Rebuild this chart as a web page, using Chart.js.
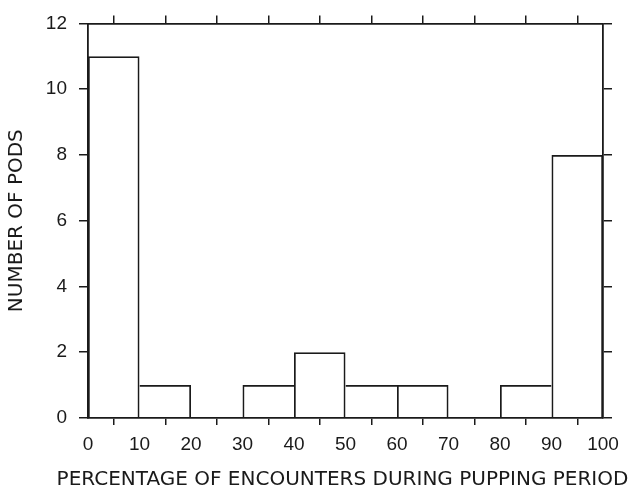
<!DOCTYPE html>
<html>
<head>
<meta charset="utf-8">
<script src="https://cdn.jsdelivr.net/npm/chart.js@4"></script>
<style>
  html, body { margin: 0; padding: 0; background: #fff; }
  #pods { display: block; }
</style>
</head>
<body>
<canvas id="pods" width="635" height="492"></canvas>
<script>
// histogram bins (percent of encounters), one bar per 10% bin
const binCenters = [5, 15, 25, 35, 45, 55, 65, 75, 85, 95];
const podCounts = [11, 1, 0, 1, 2, 1, 1, 0, 1, 8];
const xTickStep = 10;
const yTickStep = 2;
const xTitle = 'PERCENTAGE OF ENCOUNTERS DURING PUPPING PERIOD';
const yTitle = 'NUMBER OF PODS';

const ink = '#1a1a1a';
const lineW = 1.7;
const tickFont = { family: 'Liberation Sans', size: 19 };
const titleFont = { family: 'DejaVu Sans', size: 20 };

// fixed axis sizes so the plot frame lands where it should
function fixWidth(w) { return s => { s.width = w; }; }
function fixHeight(h) { return s => { s.height = h; }; }

// a shared edge between two bins is drawn once, by the taller bar
function barBorder(c) {
    const i = c.dataIndex;
    const v = podCounts[i];
    const prev = i > 0 ? podCounts[i - 1] : 0;
    const next = i < podCounts.length - 1 ? podCounts[i + 1] : 0;
    return {
        top: lineW,
        left: v >= prev ? lineW : 0,
        right: v > next ? lineW : 0,
        bottom: 0
    };
}

// the built-in axis title gets squeezed to the axis width, this one is not
const bottomTitle = {
    id: 'bottomTitle',
    afterDraw(chart) {
        const c = chart.ctx;
        const area = chart.chartArea;
        c.save();
        c.font = titleFont.size + 'px "' + titleFont.family + '"';
        c.fillStyle = ink;
        c.textAlign = 'center';
        c.textBaseline = 'middle';
        c.fillText(xTitle, (area.left + area.right) / 2 - 3, chart.height - 12);
        c.restore();
    }
};

const ctx = document.getElementById('pods').getContext('2d');
const chart = new Chart(ctx, {
    type: 'bar',
    data: {
        datasets: [{
            data: binCenters.map((x, i) => ({ x: x, y: podCounts[i] })),
            backgroundColor: 'rgba(0,0,0,0)',
            borderColor: ink,
            borderWidth: barBorder,
            borderSkipped: false,
            inflateAmount: 0,
            barPercentage: 1,
            categoryPercentage: 1,
            xAxisID: 'x',
            yAxisID: 'y'
        }]
    },
    plugins: [bottomTitle],
    options: {
        responsive: false,
        animation: false,
        devicePixelRatio: 1,
        layout: { padding: 0 },
        plugins: { legend: { display: false }, tooltip: { enabled: false } },
        scales: {
            x: {
                type: 'linear', position: 'bottom', min: 0, max: 100, offset: false,
                afterFit: fixHeight(74),
                ticks: { stepSize: xTickStep, color: ink, font: tickFont, padding: 8, maxRotation: 0 },
                grid: { drawOnChartArea: false, color: ink, tickLength: 7, lineWidth: 1.5 },
                border: { color: ink, width: 1.8 }
            },
            x2: {
                type: 'linear', position: 'top', min: 0, max: 100, offset: false,
                afterFit: fixHeight(21),
                ticks: { stepSize: xTickStep, display: false },
                grid: { drawOnChartArea: false, color: ink, tickLength: 8, lineWidth: 1.5 },
                border: { color: ink, width: 1.8 }
            },
            y: {
                position: 'left', min: 0, max: 12,
                afterFit: fixWidth(88),
                ticks: { stepSize: yTickStep, color: ink, font: tickFont, padding: 12 },
                grid: { drawOnChartArea: false, color: ink, tickLength: 9, lineWidth: 1.5 },
                border: { color: ink, width: 1.8 },
                title: { display: true, text: yTitle, color: ink, font: titleFont, padding: { top: 5, bottom: 0 } }
            },
            y2: {
                position: 'right', min: 0, max: 12,
                afterFit: fixWidth(32),
                ticks: { stepSize: yTickStep, display: false },
                grid: { drawOnChartArea: false, color: ink, tickLength: 9, lineWidth: 1.5 },
                border: { color: ink, width: 1.8 }
            }
        }
    }
});
</script>
</body>
</html>
